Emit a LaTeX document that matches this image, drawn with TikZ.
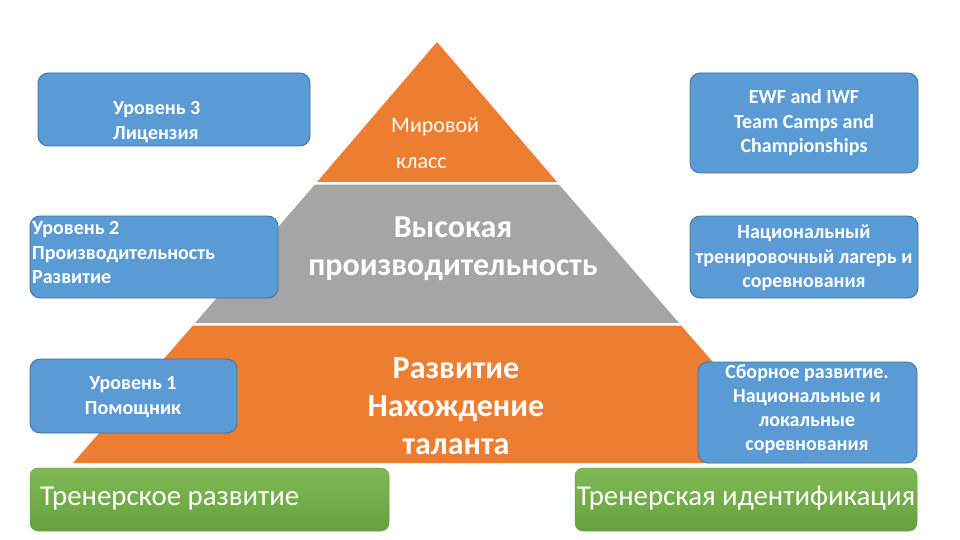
\documentclass[tikz,border=0pt]{standalone}
\usepackage{fontspec}
\setmainfont{Carlito}
\definecolor{porange}{HTML}{ED7D31}
\definecolor{pgray}{HTML}{A5A5A5}
\definecolor{pblue}{HTML}{5B9BD5}
\definecolor{pblueb}{HTML}{41719C}
\definecolor{pgreen}{HTML}{70AD47}
\definecolor{pgreenl}{HTML}{7FBA57}
\definecolor{pgreend}{HTML}{67A13E}
\begin{document}
\begin{tikzpicture}[x=1pt,y=-1pt,
  bluebox/.style={draw=pblueb,line width=0.8pt,fill=pblue,rounded corners=10pt},
  greenbox/.style={top color=pgreenl,bottom color=pgreend,draw=pgreen!90!black,line width=0.5pt,rounded corners=8pt},
  boxtxt/.style={text=white,font=\fontsize{20}{24.5}\selectfont\bfseries,inner sep=0pt},
  pyrtxt/.style={text=white,font=\fontsize{32}{38}\selectfont\bfseries,inner sep=0pt,align=center},
  greentxt/.style={text=white,font=\fontsize{28.8}{32}\selectfont,inner sep=0pt}]
\useasboundingbox (0,0) rectangle (960,540);
\fill[white] (0,0) rectangle (960,540);
% pyramid tiers
\fill[porange] (437,42) -- (557,182) -- (317,182) -- cycle;
\fill[pgray] (315,184.5) -- (559,184.5) -- (679,323) -- (195,323) -- cycle;
\fill[porange] (193,325.5) -- (681,325.5) -- (801,463) -- (73,463) -- cycle;
% pyramid texts
\node[text=white,font=\fontsize{22}{24}\selectfont,inner sep=0pt,anchor=west] (mir1) at (391,127) {Мировой};
\node[text=white,font=\fontsize{22}{24}\selectfont,inner sep=0pt,anchor=west] (mir2) at (396,163) {класс};
\node[pyrtxt] (high) at (453,248.5) {Высокая\\производительность};
\node[pyrtxt] (dev) at (456,406) {Развитие\\Нахождение\\таланта};
% left boxes
\draw[bluebox] (38,73) rectangle (310,146);
\node[boxtxt,align=left,anchor=west] (l3) at (113,122) {Уровень 3\\Лицензия};
\draw[bluebox] (30,216) rectangle (278,298);
\node[boxtxt,align=left,anchor=west] (l2) at (32,253) {Уровень 2\\Производительность\\Развитие};
\draw[bluebox] (30,359) rectangle (237,433);
\node[boxtxt,align=center] (l1) at (133,397) {Уровень 1\\Помощник};
% right boxes
\draw[bluebox] (690,73) rectangle (918,173);
\node[boxtxt,align=center] (r3) at (804,123) {EWF and IWF\\Team Camps and\\Championships};
\draw[bluebox] (690,216) rectangle (918,298);
\node[boxtxt,align=center] (r2) at (804,258) {Национальный\\тренировочный лагерь и\\соревнования};
\draw[bluebox] (698,362) rectangle (917,463);
\node[boxtxt,align=center,font=\fontsize{20}{24}\selectfont\bfseries] (r1) at (807,409) {Сборное развитие.\\Национальные и\\локальные\\соревнования};
% green boxes
\draw[greenbox] (30,468) rectangle (389,531);
\node[greentxt,anchor=west] (g1) at (40,499) {Тренерское развитие};
\draw[greenbox] (575,468) rectangle (917,531);
\node[greentxt] (g2) at (746,498) {Тренерская идентификация};
\end{tikzpicture}
\end{document}
